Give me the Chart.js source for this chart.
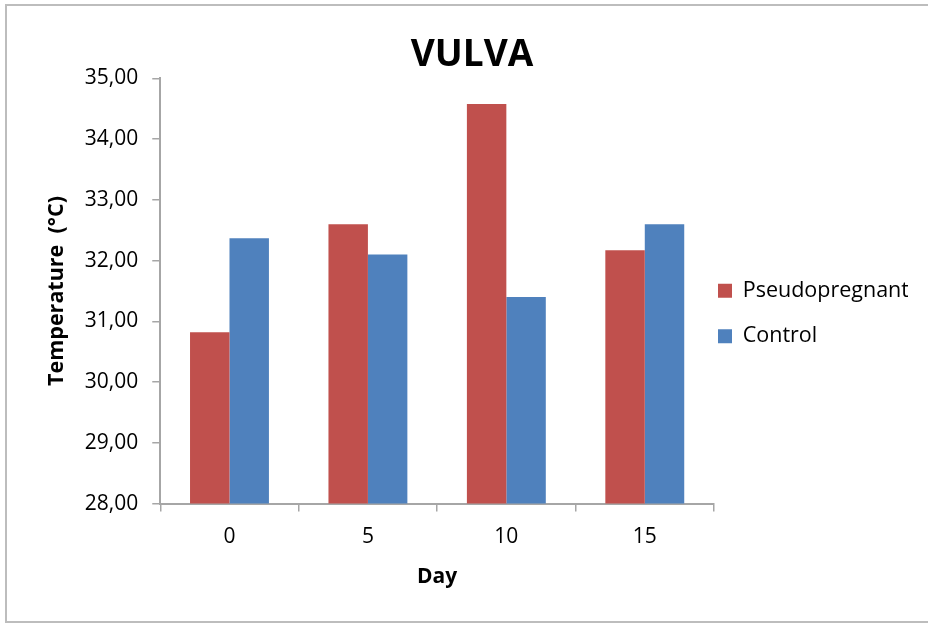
<!DOCTYPE html>
<html>
<head>
<meta charset="utf-8">
<title>VULVA</title>
<script src="https://cdn.jsdelivr.net/npm/chart.js@4.4.1/dist/chart.umd.min.js"></script>
<style>
    html, body { margin: 0; padding: 0; background: #fff; overflow: hidden; }
    #wrap { position: relative; width: 928px; height: 623px; }
    #marco {
        position: absolute; left: 5px; top: 4px; width: 960px; height: 619px;
        box-sizing: border-box; border: 2px solid #bdbdbd; pointer-events: none;
    }
</style>
</head>
<body>
<div id="wrap">
    <canvas id="vulvaChart"></canvas>
    <div id="marco"></div>
</div>
<script>
// Datos
const dias = ['0', '5', '10', '15'];
const pseudopregnant = [30.82, 32.60, 34.58, 32.17];
const control = [32.37, 32.10, 31.40, 32.60];
const yTickLabels = ['28,00', '29,00', '30,00', '31,00', '32,00', '33,00', '34,00', '35,00'];

const gris = '#a6a6a6';
const fuente = 'Open Sans';

// Mueve la leyenda un poco hacia el gráfico
const legendShift = {
    id: 'legendShift',
    afterLayout(chart) {
        if (chart.legend) {
            chart.legend.left -= 20;
            chart.legend.right -= 20;
        }
    }
};

new Chart(document.getElementById('vulvaChart'), {
    type: 'bar',
    data: {
        labels: dias,
        datasets: [{
            label: 'Pseudopregnant',
            data: pseudopregnant,
            backgroundColor: '#c0504d',
            borderWidth: 0
        }, {
            label: 'Control',
            data: control,
            backgroundColor: '#4f81bd',
            borderWidth: 0
        }]
    },
    options: {
        responsive: true,
        maintainAspectRatio: false,
        animation: false,
        categoryPercentage: 0.57,
        barPercentage: 1.0,
        layout: {
            padding: { top: 4, left: 16, right: 0, bottom: 0 }
        },
        plugins: {
            title: {
                display: true,
                text: 'VULVA',
                color: '#000',
                font: { family: fuente, size: 37, weight: 'bold' },
                padding: { top: 29, bottom: 1 }
            },
            legend: {
                position: 'right',
                maxWidth: 214,
                labels: {
                    color: '#000',
                    font: { family: fuente, size: 21.5 },
                    boxWidth: 14,
                    boxHeight: 14,
                    padding: 24
                }
            },
            tooltip: { enabled: false }
        },
        scales: {
            x: {
                grid: {
                    drawOnChartArea: false,
                    color: gris,
                    lineWidth: 1.5,
                    tickLength: 8
                },
                border: { color: gris, width: 2 },
                ticks: {
                    color: '#000',
                    font: { family: fuente, size: 21 },
                    padding: 13
                },
                title: {
                    display: true,
                    text: 'Day',
                    color: '#000',
                    font: { family: fuente, size: 21, weight: 'bold' },
                    padding: { top: 2, bottom: 33 }
                }
            },
            y: {
                min: 28,
                max: 35,
                grid: {
                    drawOnChartArea: false,
                    color: gris,
                    lineWidth: 1.5,
                    tickLength: 8
                },
                border: { color: gris, width: 2 },
                ticks: {
                    stepSize: 1,
                    color: '#000',
                    font: { family: fuente, size: 21 },
                    padding: 14,
                    callback: function(value, index) {
                        return yTickLabels[index];
                    }
                },
                title: {
                    display: true,
                    text: 'Temperature  (°C)',
                    color: '#000',
                    font: { family: fuente, size: 21.5, weight: 'bold' },
                    padding: { top: 28, bottom: 1 }
                }
            }
        }
    },
    plugins: [legendShift]
});
</script>
</body>
</html>
